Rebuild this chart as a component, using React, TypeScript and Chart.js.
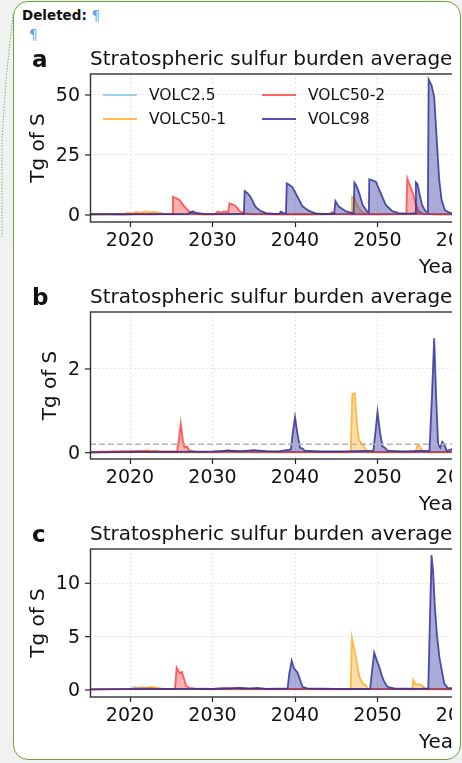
import React, { useEffect, useRef } from "react";
import { Chart, registerables } from "chart.js";

Chart.register(...registerables);

// ---------- data ----------
const seriesLabels = ["VOLC2.5", "VOLC50-1", "VOLC50-2", "VOLC98"];
const panelLetters = ["a", "b", "c"];
const titleText = "Stratospheric sulfur burden average";
const yLabel = "Tg of S";
const xLabel = "Year";
const xTicks = [2020, 2030, 2040, 2050, 2060, 2070, 2080, 2090, 2100];
const xMin = 2015.15;
const xMax = 2100;

const yTicksA = [0, 25, 50];
const yTicksB = [0, 2];
const yTicksC = [0, 5, 10];
const yRangeA = [-2.92, 58.75];
const yRangeB = [-0.15, 3.36];
const yRangeC = [-0.656, 13.21];
const thresholdB = 0.2;

// panel a
const aVolc25Years = [2015, 2020, 2021, 2022, 2030, 2040, 2050, 2060.5];
const aVolc25Values = [0.25, 0.3, 0.6, 0.3, 0.3, 0.3, 0.3, 0.3];
const aVolc501Years = [2015, 2019.3, 2019.6, 2020.2, 2020.8, 2021.3, 2021.8, 2022.4, 2023.0, 2023.6, 2024.4, 2025, 2030, 2035, 2040, 2043, 2046.8, 2046.9, 2047.2, 2047.6, 2048.2, 2048.8, 2052, 2054.2, 2054.5, 2055.0, 2055.6, 2058, 2060.5];
const aVolc501Values = [0.3, 0.3, 1.0, 0.8, 1.3, 1.0, 1.5, 1.2, 1.3, 0.9, 0.5, 0.3, 0.3, 0.35, 0.3, 0.3, 0.4, 7.6, 7.0, 3.5, 1.0, 0.4, 0.3, 0.4, 1.0, 0.7, 0.4, 0.3, 0.3];
const aVolc502Years = [2015, 2018, 2021, 2023, 2025.1, 2025.2, 2025.5, 2026.0, 2026.6, 2027.2, 2027.8, 2029, 2030.3, 2030.6, 2031.0, 2031.4, 2031.9, 2032.05, 2032.4, 2032.8, 2033.3, 2033.9, 2035, 2038, 2041, 2044.2, 2044.5, 2044.8, 2047, 2050, 2053.5, 2053.6, 2053.9, 2054.3, 2054.6, 2055.0, 2055.5, 2057, 2060.5];
const aVolc502Values = [0.3, 0.3, 0.4, 0.3, 0.5, 7.6, 7.2, 6.3, 3.5, 1.4, 0.5, 0.3, 0.4, 1.4, 1.0, 1.5, 1.2, 4.9, 4.4, 3.8, 1.6, 0.7, 0.4, 0.3, 0.3, 0.4, 1.3, 0.5, 0.3, 0.3, 0.5, 15.3, 12.5, 9.0, 5.0, 1.5, 0.6, 0.3, 0.3];
const aVolc98Years = [2015, 2017, 2019, 2021, 2023, 2025, 2027.0, 2027.6, 2028.0, 2029, 2031, 2033.0, 2033.8, 2033.9, 2034.2, 2034.6, 2035.2, 2035.8, 2036.5, 2037.5, 2038.1, 2038.3, 2038.6, 2038.9, 2039.0, 2039.3, 2039.7, 2040.3, 2040.9, 2041.7, 2042.5, 2043.5, 2044.75, 2044.9, 2045.3, 2046.2, 2047.1, 2047.2, 2047.4, 2047.8, 2048.2, 2048.8, 2048.95, 2049.0, 2049.3, 2049.8, 2050.4, 2051.0, 2051.8, 2052.6, 2053.5, 2054.55, 2054.65, 2054.85, 2055.05, 2055.4, 2055.8, 2056.1, 2056.2, 2056.55, 2056.87, 2057.16, 2057.48, 2057.77, 2058.17, 2058.7, 2059.5, 2060.5];
const aVolc98Values = [0.3, 0.35, 0.3, 0.4, 0.35, 0.4, 0.5, 1.6, 0.9, 0.5, 0.4, 0.5, 0.6, 10.0, 9.2, 7.6, 3.5, 1.7, 0.8, 0.5, 0.6, 1.4, 0.8, 0.7, 13.2, 12.6, 11.5, 7.6, 3.7, 1.7, 0.7, 0.5, 0.5, 5.8, 3.5, 1.5, 0.7, 13.5, 12.5, 9.0, 4.2, 1.2, 1.0, 14.9, 14.5, 13.9, 9.0, 4.2, 1.6, 0.8, 0.6, 0.7, 13.6, 12.8, 9.5, 4.2, 1.6, 1.2, 56.5, 54, 49.3, 32.6, 14.6, 6.3, 2.0, 1.0, 0.6, 0.5];

// panel b
const bVolc25Years = [2015, 2021, 2022, 2060.5];
const bVolc25Values = [0.01, 0.03, 0.01, 0.01];
const bVolc501Years = [2015, 2020.5, 2021.0, 2021.5, 2022.0, 2022.6, 2023.2, 2023.8, 2030, 2040, 2046.75, 2046.95, 2047.25, 2047.5, 2047.75, 2048.2, 2048.5, 2048.8, 2054.6, 2054.85, 2055.1, 2055.5, 2056, 2060.5];
const bVolc501Values = [0.0, 0.01, 0.05, 0.03, 0.06, 0.04, 0.05, 0.01, 0.01, 0.01, 0.01, 1.4, 1.42, 0.7, 0.3, 0.2, 0.1, 0.01, 0.01, 0.18, 0.15, 0.03, 0.01, 0.01];
const bVolc502Years = [2015, 2018, 2021, 2023, 2025.7, 2025.95, 2026.15, 2026.4, 2026.6, 2026.9, 2027.2, 2028, 2031, 2031.8, 2032.3, 2040, 2050, 2060.5];
const bVolc502Values = [0.02, 0.03, 0.04, 0.03, 0.03, 0.35, 0.7, 0.3, 0.13, 0.15, 0.05, 0.02, 0.02, 0.06, 0.03, 0.02, 0.02, 0.02];
const bVolc98Years = [2015, 2020, 2025, 2030, 2032, 2033.5, 2035, 2036.5, 2038, 2039.5, 2039.75, 2040.0, 2040.3, 2040.6, 2040.9, 2041.2, 2043, 2046, 2049.5, 2049.75, 2050.0, 2050.3, 2050.6, 2050.9, 2051.2, 2053, 2056.3, 2056.6, 2056.87, 2057.1, 2057.35, 2057.6, 2057.85, 2058.1, 2058.4, 2059.2, 2060.5];
const bVolc98Values = [0.01, 0.02, 0.02, 0.03, 0.05, 0.04, 0.06, 0.04, 0.03, 0.08, 0.5, 0.85, 0.45, 0.12, 0.1, 0.05, 0.03, 0.03, 0.05, 0.5, 0.98, 0.5, 0.15, 0.12, 0.05, 0.03, 0.05, 1.36, 2.73, 1.36, 0.2, 0.12, 0.26, 0.2, 0.04, 0.1, 0.05];

// panel c
const cVolc25Years = [2015, 2020, 2020.6, 2021.2, 2060.5];
const cVolc25Values = [0.05, 0.1, 0.3, 0.1, 0.05];
const cVolc501Years = [2015, 2020.5, 2021.3, 2022, 2022.6, 2023.3, 2024, 2030, 2040, 2046.75, 2046.9, 2047.3, 2047.8, 2048.2, 2048.6, 2048.9, 2054.2, 2054.35, 2054.6, 2055.0, 2055.5, 2055.8, 2060.5];
const cVolc501Values = [0.05, 0.1, 0.25, 0.2, 0.3, 0.2, 0.1, 0.05, 0.05, 0.05, 4.9, 3.4, 1.25, 0.6, 0.4, 0.1, 0.05, 0.95, 0.5, 0.55, 0.4, 0.05, 0.05];
const cVolc502Years = [2015, 2020, 2022, 2024, 2025.45, 2025.65, 2026.0, 2026.3, 2026.8, 2027.2, 2027.8, 2030, 2031.5, 2032, 2033, 2034, 2040, 2050, 2060.5];
const cVolc502Values = [0.05, 0.1, 0.15, 0.1, 0.1, 2.1, 1.6, 1.7, 0.4, 0.2, 0.15, 0.1, 0.2, 0.15, 0.2, 0.1, 0.1, 0.1, 0.1];
const cVolc98Years = [2015, 2020, 2025, 2030, 2032, 2033.5, 2034.5, 2035.5, 2036.5, 2039.1, 2039.3, 2039.6, 2039.9, 2040.3, 2040.6, 2040.9, 2041.5, 2045, 2049.1, 2049.3, 2049.6, 2049.9, 2050.2, 2050.5, 2050.8, 2051.2, 2052, 2055, 2056.15, 2056.35, 2056.55, 2056.75, 2056.95, 2057.2, 2057.5, 2057.8, 2058.1, 2058.5, 2059.2, 2060.5];
const cVolc98Values = [0.05, 0.08, 0.1, 0.1, 0.15, 0.2, 0.15, 0.2, 0.1, 0.15, 1.5, 2.75, 2.0, 1.65, 1.0, 0.3, 0.15, 0.1, 0.1, 1.5, 3.5, 2.8, 2.2, 1.4, 0.8, 0.3, 0.15, 0.1, 0.15, 6.5, 12.65, 11.0, 7.8, 5.2, 3.1, 1.8, 0.6, 0.2, 0.15, 0.1];

// ---------- styling ----------
const FONT = "'DejaVu Sans', 'Noto Sans', sans-serif";
const lineColors = ["rgba(130,195,232,0.75)", "rgba(255,170,30,0.8)", "rgba(255,45,45,0.72)", "rgba(45,45,150,0.82)"];
const fillColors = ["rgba(130,195,232,0.35)", "rgba(255,176,40,0.4)", "rgba(255,60,60,0.4)", "rgba(45,45,160,0.4)"];
const drawOrder = [4, 3, 2, 1];

const CANVAS_W = 820;
const CANVAS_H = 763;

type PanelSpec = {
  letter: string;
  top: number;
  bottom: number;
  yRange: number[];
  yTicks: number[];
  series: [number[], number[]][];
  threshold?: number;
  legend?: boolean;
};

const panels: PanelSpec[] = [
  {
    letter: panelLetters[0], top: 74, bottom: 222, yRange: yRangeA, yTicks: yTicksA, legend: true,
    series: [[aVolc25Years, aVolc25Values], [aVolc501Years, aVolc501Values], [aVolc502Years, aVolc502Values], [aVolc98Years, aVolc98Values]],
  },
  {
    letter: panelLetters[1], top: 312, bottom: 459, yRange: yRangeB, yTicks: yTicksB, threshold: thresholdB,
    series: [[bVolc25Years, bVolc25Values], [bVolc501Years, bVolc501Values], [bVolc502Years, bVolc502Values], [bVolc98Years, bVolc98Values]],
  },
  {
    letter: panelLetters[2], top: 549, bottom: 697, yRange: yRangeC, yTicks: yTicksC,
    series: [[cVolc25Years, cVolc25Values], [cVolc501Years, cVolc501Values], [cVolc502Years, cVolc502Values], [cVolc98Years, cVolc98Values]],
  },
];

function toPoints(xs: number[], ys: number[]) {
  const n = Math.min(xs.length, ys.length);
  const out: { x: number; y: number }[] = [];
  for (let i = 0; i < n; i++) out.push({ x: xs[i], y: ys[i] });
  return out;
}

function decoPlugin(p: PanelSpec) {
  return {
    id: "deco" + p.letter,
    afterDatasetsDraw(chart: any) {
      const { ctx, chartArea: a } = chart;
      ctx.save();
      ctx.strokeStyle = "#333";
      ctx.lineWidth = 1.4;
      ctx.setLineDash([]);
      ctx.strokeRect(a.left + 0.5, a.top, a.right - a.left, a.bottom - a.top);
      ctx.restore();
    },
    afterDraw(chart: any) {
      const { ctx, chartArea: a } = chart;
      const ys = chart.scales.y;
      ctx.save();
      ctx.fillStyle = "#111";
      ctx.textBaseline = "alphabetic";
      ctx.textAlign = "left";
      ctx.font = `bold 23px ${FONT}`;
      ctx.fillText(p.letter, 32, a.top - 7);
      ctx.font = `20px ${FONT}`;
      ctx.fillText(titleText, a.left, a.top - 9);
      ctx.textAlign = "center";
      ctx.fillText(xLabel, (a.left + a.right) / 2, a.bottom + 50.5);

      // y ticks, tick marks and axis title
      ctx.font = `19px ${FONT}`;
      ctx.textAlign = "right";
      ctx.textBaseline = "middle";
      ctx.strokeStyle = "#222";
      ctx.lineWidth = 1.2;
      let widest = 0;
      p.yTicks.forEach((v) => {
        const py = ys.getPixelForValue(v);
        ctx.beginPath();
        ctx.moveTo(a.left - 5, py);
        ctx.lineTo(a.left, py);
        ctx.stroke();
        ctx.fillText(String(v), a.left - 10, py + 1);
        widest = Math.max(widest, ctx.measureText(String(v)).width);
      });
      const titleBaseX = a.left - 10 - widest - 11.5;
      ctx.save();
      ctx.font = `20px ${FONT}`;
      ctx.textAlign = "center";
      ctx.textBaseline = "alphabetic";
      ctx.translate(titleBaseX, (a.top + a.bottom) / 2);
      ctx.rotate(-Math.PI / 2);
      ctx.fillText(yLabel, 0, 0);
      ctx.restore();

      if (p.legend) {
        const slots = [
          [13, 21], [13, 45], [172, 21], [172, 45],
        ];
        ctx.font = `15.5px ${FONT}`;
        ctx.textAlign = "left";
        ctx.textBaseline = "middle";
        seriesLabels.forEach((lab, i) => {
          const [dx, dy] = slots[i];
          const y = a.top + dy;
          ctx.strokeStyle = lineColors[i];
          ctx.lineWidth = 2;
          ctx.beginPath();
          ctx.moveTo(a.left + dx, y);
          ctx.lineTo(a.left + dx + 34, y);
          ctx.stroke();
          ctx.fillStyle = "#111";
          ctx.fillText(lab, a.left + dx + 46, y + 1);
        });
      }
      ctx.restore();
    },
  };
}

function Panel({ spec }: { spec: PanelSpec }) {
  const ref = useRef<HTMLCanvasElement | null>(null);
  useEffect(() => {
    if (!ref.current) return;
    const datasets: any[] = spec.series.map(([xs, ys], i) => ({
      label: seriesLabels[i],
      data: toPoints(xs, ys),
      borderColor: lineColors[i],
      backgroundColor: fillColors[i],
      fill: "origin",
      borderWidth: 1.8,
      pointRadius: 0,
      tension: 0,
      order: drawOrder[i],
    }));
    if (spec.threshold !== undefined) {
      datasets.push({
        label: "threshold",
        data: [{ x: xMin, y: spec.threshold }, { x: xMax, y: spec.threshold }],
        borderColor: "#b4b4b4",
        borderDash: [6, 3],
        borderWidth: 1.5,
        fill: false,
        pointRadius: 0,
        order: 0,
      });
    }
    const chart = new Chart(ref.current, {
      type: "line",
      data: { datasets },
      plugins: [decoPlugin(spec)],
      options: {
        animation: false,
        responsive: false,
        devicePixelRatio: 1,
        layout: { padding: { left: 0, right: 30, top: spec.top, bottom: CANVAS_H - spec.bottom - 40 } },
        plugins: { legend: { display: false }, tooltip: { enabled: false }, title: { display: false } },
        scales: {
          x: {
            type: "linear",
            min: xMin,
            max: xMax,
            afterFit: (s: any) => { s.height = 40; },
            afterBuildTicks: (s: any) => { s.ticks = xTicks.map((v) => ({ value: v })); },
            ticks: {
              callback: (v: any) => String(v),
              font: { family: FONT, size: 19 },
              color: "#111",
              padding: 3,
              maxRotation: 0,
              autoSkip: false,
            },
            grid: { color: "#e4e4e4", tickColor: "#222", tickLength: 5, tickWidth: 1.2, tickBorderDash: [] },
            border: { display: false, dash: [2, 2] },
          },
          y: {
            type: "linear",
            min: spec.yRange[0],
            max: spec.yRange[1],
            afterFit: (s: any) => { s.width = 90; },
            afterBuildTicks: (s: any) => { s.ticks = spec.yTicks.map((v) => ({ value: v })); },
            ticks: { display: false },
            grid: { color: "#e4e4e4", drawTicks: false },
            border: { display: false, dash: [2, 2] },
            title: { display: false },
          },
        },
      } as any,
    });
    return () => chart.destroy();
  }, [spec]);
  return (
    <canvas
      ref={ref}
      width={CANVAS_W}
      height={CANVAS_H}
      style={{ position: "absolute", left: 0, top: 0, width: CANVAS_W, height: CANVAS_H }}
    />
  );
}

export default function App() {
  return (
    <div style={{ position: "absolute", left: 0, top: 0, width: 462, height: 763, background: "#f1f1f1", overflow: "hidden" }}>
      <div
        style={{
          position: "absolute", left: 13, top: 1, width: 448, height: 759, boxSizing: "border-box",
          border: "1.5px solid #6f9f38", borderRadius: 15, background: "#ffffff",
        }}
      />
      <svg width={462} height={763} style={{ position: "absolute", left: 0, top: 0 }}>
        <polyline points="13,14 6,80 2,140 2,238" fill="none" stroke="#86b35a" strokeWidth={1} strokeDasharray="1.5,1.5" />
      </svg>
      <div style={{ position: "absolute", left: 22, top: 6.6, font: `bold 13.5px ${FONT}`, lineHeight: "16px", color: "#111", whiteSpace: "nowrap" }}>
        Deleted: <span style={{ color: "#5aaae8", fontWeight: "normal" }}>¶</span>
      </div>
      <div style={{ position: "absolute", left: 29, top: 26.3, font: `13.5px ${FONT}`, lineHeight: "16px", color: "#5aaae8" }}>¶</div>
      <div style={{ position: "absolute", left: 0, top: 0, width: 452, height: 763, overflow: "hidden" }}>
        {panels.map((p) => (
          <Panel key={p.letter} spec={p} />
        ))}
      </div>
    </div>
  );
}
